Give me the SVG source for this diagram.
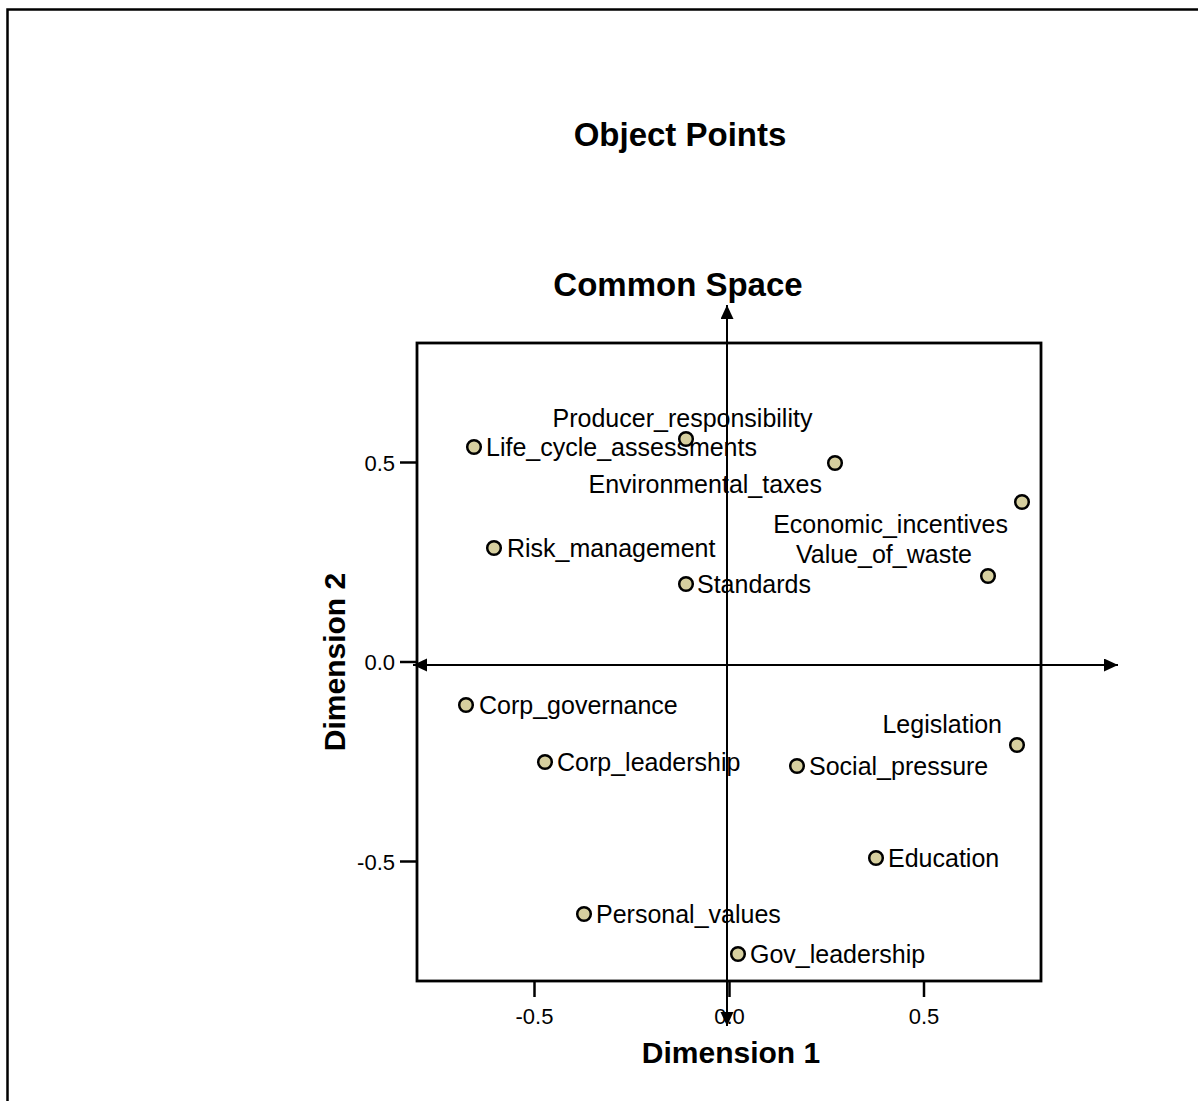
<svg xmlns="http://www.w3.org/2000/svg" width="1198" height="1101" viewBox="0 0 1198 1101">
  <style>
    .title { font-family: "Liberation Sans", Arial, sans-serif; font-weight: bold; font-size: 33px; fill: #000; text-anchor: middle; }
    .axis-title { font-family: "Liberation Sans", Arial, sans-serif; font-weight: bold; font-size: 30px; fill: #000; text-anchor: middle; }
    .tick-label { font-family: "Liberation Sans", Arial, sans-serif; font-size: 22px; fill: #000; }
    .lbl { font-family: "Liberation Sans", Arial, sans-serif; font-size: 25px; fill: #000; }
    .end { text-anchor: end; }
    .mid { text-anchor: middle; }
    .pt { fill: #d6cf9f; stroke: #000; stroke-width: 2.5; }
    .frame { fill: none; stroke: #000; stroke-width: 2.8; }
    .tick { stroke: #000; stroke-width: 2.5; }
    .arrow-line { stroke: #000; stroke-width: 2; fill: none; }
  </style>
  <defs>
    <marker id="arrowhead" markerUnits="userSpaceOnUse" markerWidth="15" markerHeight="14" refX="14" refY="6.5" orient="auto-start-reverse">
      <path d="M0,0 L14,6.5 L0,13 Z" fill="#000"/>
    </marker>
  </defs>

  <rect width="1198" height="1101" fill="#fff"/>

  <!-- outer page frame (left and top edges visible) -->
  <path d="M7.5,1101 V9.5 H1198" fill="none" stroke="#000" stroke-width="2.5"/>

  <text class="title" x="680" y="146">Object Points</text>
  <text class="title" x="678" y="296">Common Space</text>

  <!-- plot frame -->
  <rect id="plot-frame" class="frame" x="417" y="343" width="624" height="638"/>

  <!-- tick marks and tick labels -->
  <g id="y-ticks">
    <line class="tick" x1="400" y1="462.5" x2="417" y2="462.5"/>
    <line class="tick" x1="400" y1="662" x2="417" y2="662"/>
    <line class="tick" x1="400" y1="861.5" x2="417" y2="861.5"/>
    <text class="tick-label end" x="395" y="470.5">0.5</text>
    <text class="tick-label end" x="395" y="670">0.0</text>
    <text class="tick-label end" x="395" y="869.5">-0.5</text>
  </g>
  <g id="x-ticks">
    <line class="tick" x1="534.5" y1="981" x2="534.5" y2="997"/>
    <line class="tick" x1="729.5" y1="981" x2="729.5" y2="997"/>
    <line class="tick" x1="924" y1="981" x2="924" y2="997"/>
    <text class="tick-label mid" x="534.5" y="1024">-0.5</text>
    <text class="tick-label mid" x="729.5" y="1024">0.0</text>
    <text class="tick-label mid" x="924" y="1024">0.5</text>
  </g>

  <text class="axis-title" x="731" y="1063">Dimension 1</text>
  <text class="axis-title" transform="translate(345,662) rotate(-90)" x="0" y="0">Dimension 2</text>

  <!-- labels of the object points -->
  <g id="labels">
    <text class="lbl mid" x="682.5" y="427">Producer_responsibility</text>
    <text class="lbl" x="486" y="456">Life_cycle_assessments</text>
    <text class="lbl end" x="822" y="493">Environmental_taxes</text>
    <text class="lbl end" x="1008" y="533">Economic_incentives</text>
    <text class="lbl end" x="972" y="563">Value_of_waste</text>
    <text class="lbl" x="507" y="557">Risk_management</text>
    <text class="lbl" x="697" y="593">Standards</text>
    <text class="lbl" x="479" y="714">Corp_governance</text>
    <text class="lbl end" x="1002" y="733">Legislation</text>
    <text class="lbl" x="557" y="771">Corp_leadership</text>
    <text class="lbl" x="809" y="775">Social_pressure</text>
    <text class="lbl" x="888" y="867">Education</text>
    <text class="lbl" x="596" y="923">Personal_values</text>
    <text class="lbl" x="750" y="963">Gov_leadership</text>
  </g>

  <!-- object points -->
  <g id="points">
    <g id="producer_responsibility"><circle class="pt" cx="686" cy="439" r="6.8"/></g>
    <g id="life_cycle_assessments"><circle class="pt" cx="474" cy="447" r="6.8"/></g>
    <g id="environmental_taxes"><circle class="pt" cx="835" cy="463" r="6.8"/></g>
    <g id="economic_incentives"><circle class="pt" cx="1022" cy="502" r="6.8"/></g>
    <g id="value_of_waste"><circle class="pt" cx="988" cy="576" r="6.8"/></g>
    <g id="risk_management"><circle class="pt" cx="494" cy="548" r="6.8"/></g>
    <g id="standards"><circle class="pt" cx="686" cy="584" r="6.8"/></g>
    <g id="corp_governance"><circle class="pt" cx="466" cy="705" r="6.8"/></g>
    <g id="legislation"><circle class="pt" cx="1017" cy="745" r="6.8"/></g>
    <g id="corp_leadership"><circle class="pt" cx="545" cy="762" r="6.8"/></g>
    <g id="social_pressure"><circle class="pt" cx="797" cy="766" r="6.8"/></g>
    <g id="education"><circle class="pt" cx="876" cy="858" r="6.8"/></g>
    <g id="personal_values"><circle class="pt" cx="584" cy="914" r="6.8"/></g>
    <g id="gov_leadership"><circle class="pt" cx="738" cy="954" r="6.8"/></g>
  </g>

  <!-- double-headed axes through the origin -->
  <g id="connectors">
    <line class="arrow-line" x1="413" y1="665" x2="1118" y2="665" marker-start="url(#arrowhead)" marker-end="url(#arrowhead)"/>
    <line class="arrow-line" x1="727" y1="305" x2="727" y2="1026" marker-start="url(#arrowhead)" marker-end="url(#arrowhead)"/>
  </g>
</svg>
